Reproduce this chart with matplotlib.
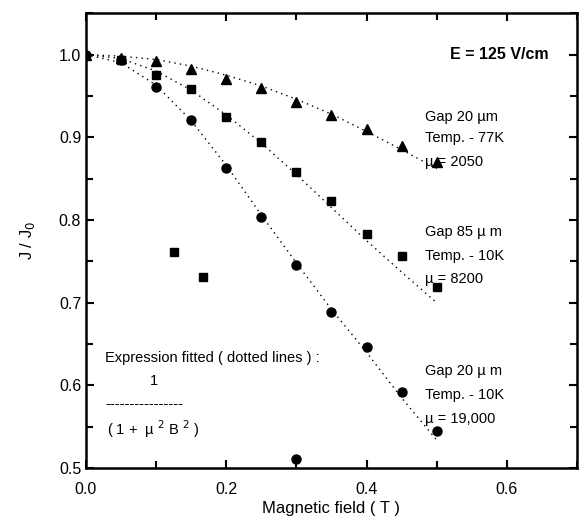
import matplotlib.pyplot as plt
from matplotlib.ticker import MultipleLocator

plt.rcParams['font.family'] = ['Liberation Sans', 'DejaVu Sans']

# datos medidos
campo = [0.0, 0.05, 0.1, 0.15, 0.2, 0.25, 0.3, 0.35, 0.4, 0.45, 0.5]
triangulos = [1.0, 0.996, 0.992, 0.983, 0.971, 0.959, 0.943, 0.927, 0.910, 0.890, 0.870]
cuadrados = [1.0, 0.993, 0.975, 0.958, 0.925, 0.894, 0.858, 0.823, 0.783, 0.757, 0.719]
circulos = [1.0, 0.993, 0.961, 0.921, 0.863, 0.804, 0.745, 0.689, 0.646, 0.592, 0.545]

# puntos sueltos
cuad_x = [0.125, 0.167]
cuad_y = [0.761, 0.731]
circ_x = [0.3]
circ_y = [0.511]

# lineas punteadas (ajuste)
ajuste_tri = [1.0, 0.998, 0.994, 0.986, 0.975, 0.962, 0.946, 0.928, 0.907, 0.885, 0.862]
ajuste_cuad = [1.0, 0.995, 0.980, 0.957, 0.927, 0.893, 0.855, 0.815, 0.775, 0.737, 0.700]
ajuste_circ = [1.0, 0.990, 0.963, 0.920, 0.866, 0.806, 0.748, 0.692, 0.640, 0.585, 0.534]

fig = plt.figure(figsize=(5.81, 5.26), dpi=100)
ax = fig.add_axes([0.148, 0.110, 0.845, 0.865])

punteado = (0, (1, 3))
ax.plot(campo, ajuste_tri, color='black', lw=1, ls=punteado)
ax.plot(campo, ajuste_cuad, color='black', lw=1, ls=punteado)
ax.plot(campo, ajuste_circ, color='black', lw=1, ls=punteado)

ax.plot(campo, triangulos, '^', color='black', ms=7)
ax.plot(campo[1:], cuadrados[1:], 's', color='black', ms=5.5)
ax.plot(campo, circulos, 'o', color='black', ms=6.5)
ax.plot(cuad_x, cuad_y, 's', color='black', ms=5.5)
ax.plot(circ_x, circ_y, 'o', color='black', ms=6.5)

ax.set_xlim(0, 0.7)
ax.set_ylim(0.5, 1.05)
ax.xaxis.set_major_locator(MultipleLocator(0.2))
ax.xaxis.set_minor_locator(MultipleLocator(0.1))
ax.yaxis.set_major_locator(MultipleLocator(0.1))
ax.yaxis.set_minor_locator(MultipleLocator(0.05))
ax.tick_params(which='both', direction='in', top=True, right=True, width=1.5, labelsize=11.5)
ax.tick_params(axis='x', pad=10)
ax.tick_params(which='major', length=6)
ax.tick_params(which='minor', length=5)
for s in ax.spines.values():
    s.set_linewidth(1.8)

ax.set_xlabel('Magnetic field ( T )', fontsize=12, labelpad=3)
ax.set_ylabel('J / J$_0$', fontsize=12, labelpad=16)

ax.text(0.59, 1.0, 'E = 125 V/cm', fontsize=11.5, fontweight='bold', ha='center', va='center')

kw = dict(fontsize=10.5, ha='left', va='center')
ax.text(0.484, 0.925, 'Gap 20 µm', **kw)
ax.text(0.484, 0.899, 'Temp. - 77K', **kw)
ax.text(0.484, 0.870, 'µ = 2050', **kw)

ax.text(0.484, 0.786, 'Gap 85 µ m', **kw)
ax.text(0.484, 0.756, 'Temp. - 10K', **kw)
ax.text(0.484, 0.729, 'µ = 8200', **kw)

ax.text(0.484, 0.617, 'Gap 20 µ m', **kw)
ax.text(0.484, 0.588, 'Temp. - 10K', **kw)
ax.text(0.484, 0.560, 'µ = 19,000', **kw)

ax.text(0.027, 0.633, 'Expression fitted ( dotted lines ) :', **kw)
ax.text(0.091, 0.605, '1', **kw)
ax.text(0.027, 0.578, '-' * 16, **kw)
ax.text(0.030, 0.547, '( 1 +  µ $^2$ B $^2$ )', **kw)

fig.savefig('out.png', dpi=100)
